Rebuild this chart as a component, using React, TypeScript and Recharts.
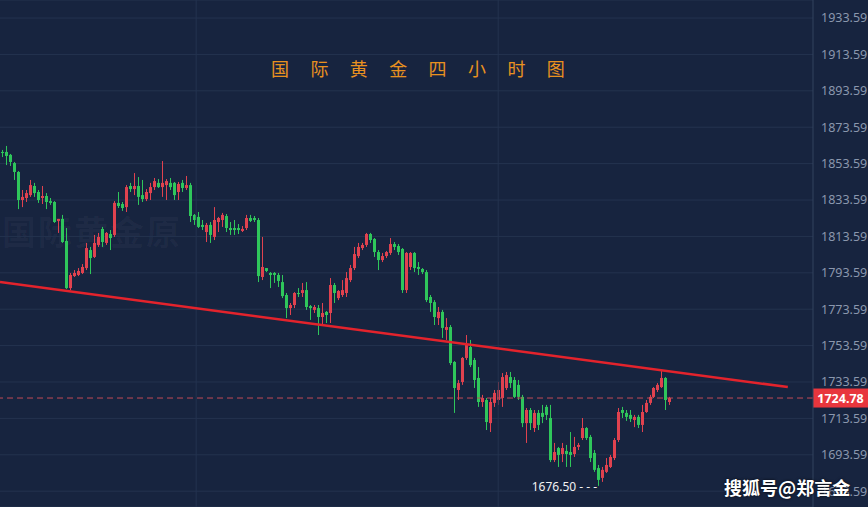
import { ComposedChart, Bar, XAxis, YAxis, CartesianGrid, ReferenceLine, ReferenceDot } from "recharts"

// 国际黄金 4小时K线，红涨绿跌

const opens = [
  1860.0, 1860.0, 1858.4, 1853.9, 1849.0, 1833.6, 1834.7, 1836.3, 1841.3, 1838.0,
  1834.7, 1835.8, 1833.0, 1832.5, 1822.1, 1823.2, 1811.1, 1785.2, 1791.8, 1792.4,
  1793.5, 1796.2, 1806.1, 1802.3, 1808.9, 1817.7, 1810.0, 1814.9, 1814.4, 1832.0,
  1831.4, 1829.7, 1841.3, 1839.6, 1841.3, 1836.3, 1834.1, 1837.4, 1840.7, 1843.0,
  1840.7, 1841.8, 1843.0, 1843.0, 1838.0, 1843.0, 1840.2, 1841.8, 1825.4, 1824.3,
  1819.9, 1816.0, 1819.9, 1813.3, 1821.5, 1822.6, 1824.8, 1818.2, 1818.2, 1818.2,
  1816.6, 1818.2, 1823.7, 1823.7, 1822.6, 1791.3, 1796.2, 1793.5, 1793.5, 1792.4,
  1788.5, 1781.4, 1774.2, 1775.9, 1782.5, 1782.5, 1784.1, 1775.3, 1773.2, 1774.2,
  1769.3, 1772.1, 1771.5, 1786.9, 1779.7, 1781.4, 1782.5, 1789.6, 1796.2, 1802.8,
  1807.2, 1808.9, 1814.9, 1812.2, 1805.0, 1800.6, 1802.8, 1804.5, 1809.4, 1808.3,
  1806.7, 1784.1, 1796.8, 1804.5, 1796.8, 1795.7, 1794.0, 1780.3, 1777.5, 1768.7,
  1772.1, 1762.2, 1763.8, 1744.6, 1729.2, 1733.6, 1746.8, 1752.8, 1745.7, 1735.8,
  1722.6, 1723.7, 1711.0, 1722.1, 1723.7, 1724.8, 1730.3, 1736.3, 1734.7, 1732.0,
  1725.4, 1711.0, 1718.2, 1708.3, 1716.6, 1716.6, 1719.9, 1713.8, 1690.7, 1697.3,
  1694.0, 1695.7, 1695.1, 1694.0, 1697.9, 1702.8, 1708.3, 1703.4, 1694.6, 1686.3,
  1680.9, 1684.2, 1686.9, 1691.8, 1701.7, 1718.2, 1716.6, 1715.5, 1712.7, 1714.4,
  1710.0, 1717.1, 1722.1, 1725.4, 1729.2, 1730.8, 1735.8, 1722.6,
]

const highs = [
  1861.1, 1863.3, 1858.9, 1854.5, 1849.5, 1839.1, 1839.1, 1844.6, 1843.0, 1839.1,
  1841.3, 1837.4, 1834.7, 1833.0, 1823.2, 1825.4, 1818.2, 1793.5, 1795.1, 1796.2,
  1798.4, 1810.0, 1807.8, 1814.4, 1815.5, 1818.8, 1816.0, 1817.1, 1833.0, 1838.0,
  1832.5, 1841.8, 1843.0, 1848.4, 1846.2, 1844.6, 1839.6, 1843.0, 1845.7, 1845.1,
  1855.0, 1845.1, 1845.7, 1843.5, 1843.5, 1844.6, 1846.8, 1843.0, 1825.9, 1827.0,
  1822.6, 1821.0, 1821.5, 1829.7, 1824.3, 1826.5, 1825.9, 1821.5, 1822.6, 1820.4,
  1819.3, 1825.4, 1825.4, 1824.8, 1823.7, 1813.3, 1796.2, 1794.0, 1794.0, 1793.5,
  1792.4, 1782.5, 1777.0, 1783.0, 1785.2, 1788.0, 1788.5, 1775.9, 1775.9, 1775.9,
  1777.0, 1772.6, 1790.7, 1788.0, 1784.1, 1789.6, 1794.0, 1797.9, 1807.8, 1810.0,
  1810.0, 1815.5, 1815.5, 1812.7, 1806.1, 1804.5, 1805.6, 1812.7, 1810.5, 1809.4,
  1807.2, 1805.0, 1805.0, 1805.0, 1799.5, 1796.2, 1795.1, 1781.4, 1778.6, 1774.8,
  1773.2, 1768.7, 1764.9, 1745.1, 1734.7, 1747.3, 1759.4, 1756.7, 1746.8, 1741.8,
  1726.5, 1724.8, 1724.8, 1729.2, 1733.6, 1738.5, 1739.1, 1739.1, 1736.3, 1734.7,
  1726.5, 1719.3, 1719.3, 1718.2, 1718.2, 1721.0, 1721.0, 1721.0, 1700.1, 1697.9,
  1700.1, 1699.0, 1706.1, 1703.4, 1700.1, 1713.8, 1708.8, 1704.5, 1696.2, 1688.0,
  1686.9, 1691.8, 1693.5, 1702.8, 1719.3, 1719.9, 1718.2, 1718.2, 1715.5, 1715.5,
  1721.0, 1723.7, 1726.5, 1730.8, 1733.0, 1739.6, 1736.3, 1725.4,
]

const lows = [
  1857.2, 1852.8, 1852.3, 1844.6, 1828.6, 1829.7, 1832.5, 1835.3, 1835.3, 1832.0,
  1831.4, 1828.6, 1830.9, 1821.0, 1815.5, 1810.0, 1784.7, 1784.1, 1791.3, 1791.8,
  1792.9, 1795.1, 1792.9, 1801.7, 1807.8, 1807.8, 1808.9, 1806.1, 1813.3, 1829.2,
  1827.6, 1827.0, 1838.0, 1836.3, 1830.9, 1832.5, 1833.0, 1833.6, 1839.1, 1840.2,
  1835.3, 1833.6, 1839.1, 1833.6, 1833.6, 1838.0, 1839.1, 1821.5, 1819.9, 1818.2,
  1817.1, 1810.5, 1810.0, 1811.6, 1816.0, 1818.8, 1816.0, 1814.4, 1814.4, 1814.9,
  1816.0, 1817.1, 1821.5, 1821.5, 1788.5, 1789.6, 1794.0, 1785.2, 1788.0, 1785.8,
  1779.7, 1768.7, 1770.4, 1774.2, 1780.3, 1780.3, 1773.2, 1767.7, 1771.5, 1759.4,
  1764.9, 1766.0, 1766.0, 1777.0, 1778.6, 1780.3, 1780.3, 1788.5, 1795.1, 1801.7,
  1806.1, 1807.8, 1810.0, 1802.3, 1795.1, 1799.5, 1801.7, 1803.4, 1806.1, 1803.4,
  1782.5, 1782.5, 1795.1, 1794.0, 1792.4, 1792.9, 1777.5, 1772.1, 1764.9, 1764.9,
  1757.8, 1756.7, 1742.9, 1716.6, 1723.7, 1732.0, 1745.7, 1741.8, 1730.3, 1719.9,
  1719.9, 1707.2, 1706.1, 1719.9, 1721.0, 1719.9, 1729.2, 1730.3, 1724.8, 1723.7,
  1708.8, 1700.1, 1707.2, 1706.1, 1707.2, 1711.0, 1712.7, 1689.6, 1689.6, 1686.9,
  1689.6, 1686.9, 1686.9, 1692.4, 1696.2, 1701.7, 1701.7, 1689.6, 1684.2, 1676.5,
  1678.7, 1683.6, 1686.3, 1690.7, 1700.6, 1713.8, 1712.2, 1711.6, 1708.8, 1708.3,
  1706.1, 1716.6, 1721.0, 1724.8, 1728.1, 1730.3, 1718.2, 1721.0,
]

const closes = [
  1859.4, 1857.8, 1854.5, 1849.0, 1833.6, 1835.3, 1837.4, 1841.8, 1837.4, 1833.6,
  1835.8, 1832.5, 1832.0, 1821.5, 1823.2, 1810.5, 1785.2, 1792.4, 1793.5, 1794.6,
  1796.8, 1807.2, 1801.7, 1810.0, 1813.3, 1810.5, 1815.5, 1812.7, 1832.0, 1830.3,
  1829.2, 1840.7, 1839.6, 1841.3, 1835.3, 1834.1, 1838.0, 1840.7, 1844.0, 1840.7,
  1843.0, 1844.0, 1840.7, 1836.3, 1842.4, 1840.2, 1841.8, 1824.8, 1822.6, 1818.8,
  1818.8, 1819.9, 1814.4, 1822.6, 1823.7, 1825.4, 1818.2, 1817.1, 1817.1, 1817.1,
  1817.7, 1823.7, 1822.1, 1822.6, 1791.8, 1796.8, 1794.6, 1792.4, 1792.4, 1789.1,
  1780.8, 1774.2, 1775.9, 1782.5, 1781.9, 1784.1, 1774.8, 1774.2, 1774.8, 1769.3,
  1771.5, 1770.4, 1786.9, 1782.5, 1783.6, 1784.1, 1790.7, 1796.2, 1803.9, 1807.8,
  1808.9, 1814.9, 1811.6, 1805.0, 1800.6, 1802.8, 1805.0, 1809.4, 1807.8, 1805.0,
  1784.1, 1804.5, 1804.5, 1796.2, 1795.7, 1794.0, 1778.6, 1777.0, 1769.3, 1772.1,
  1763.3, 1763.8, 1744.0, 1730.3, 1733.0, 1746.8, 1753.9, 1742.9, 1734.7, 1722.6,
  1724.8, 1711.6, 1722.6, 1727.6, 1729.2, 1736.3, 1737.4, 1733.0, 1725.4, 1725.4,
  1711.0, 1718.2, 1711.0, 1716.6, 1710.0, 1714.4, 1715.5, 1690.7, 1695.1, 1693.5,
  1697.3, 1694.0, 1693.5, 1697.9, 1699.0, 1708.3, 1702.8, 1691.8, 1685.3, 1679.8,
  1685.3, 1688.0, 1692.4, 1701.7, 1717.1, 1716.6, 1714.4, 1713.3, 1714.4, 1710.0,
  1717.1, 1722.1, 1725.4, 1730.3, 1732.0, 1735.8, 1723.7, 1724.78,
]

const priceTicks = [1673.59, 1693.59, 1713.59, 1733.59, 1753.59, 1773.59, 1793.59, 1813.59, 1833.59, 1853.59, 1873.59, 1893.59, 1913.59, 1933.59]
const lastPrice = 1724.78
const lowMark = { i: 149, price: 1676.5 }
// 下降趋势线两端 (K线序号, 价格)
const trendLine = [{ x: -0.7, y: 1788.5 }, { x: 196.5, y: 1730.8 }]
const sessionLines = [48.4, 124]
const titleChars = ["国", "际", "黄", "金", "四", "小", "时", "图"]

const BG = "#17243f"
const GRID = "#24334f"
const RED = "#e0424f"
const GREEN = "#2fc65b"

const data = opens.map((o, i) => ({
  i,
  o,
  h: highs[i],
  l: lows[i],
  c: closes[i],
  range: [lows[i], highs[i]],
}))

function Candle(props: any) {
  const { x, y, width, height, payload } = props
  const { o, h, l, c } = payload
  const top = Math.min(y, y + height)
  const span = Math.abs(height)
  const k = h === l ? 0 : span / (h - l)
  const yO = top + (h - o) * k
  const yC = top + (h - c) * k
  const color = c >= o ? RED : GREEN
  const cx = Math.round(x + width / 2) + 0.5
  const bodyTop = Math.min(yO, yC)
  const bodyH = Math.max(1, Math.abs(yO - yC))
  return (
    <g>
      <line x1={cx} x2={cx} y1={top} y2={top + span} stroke={color} strokeWidth={1} />
      <rect x={cx - 1.5} y={bodyTop} width={3} height={bodyH} fill={color} />
    </g>
  )
}

function PriceTag(props: any) {
  const vb = props.viewBox || {}
  const x0 = vb.x + vb.width
  return (
    <g>
      <rect x={x0} y={vb.y - 9.5} width={55} height={19} fill="#e8363d" />
      <text x={x0 + 27.5} y={vb.y + 4.5} textAnchor="middle" fill="#fff" fontSize={12.5} fontWeight={700} fontFamily="Noto Sans, sans-serif">
        {lastPrice.toFixed(2)}
      </text>
    </g>
  )
}

function LowTag(props: any) {
  const vb = props.viewBox || {}
  return (
    <text x={vb.x - 1} y={vb.y + 5} textAnchor="end" fill="#f2f2f2" fontSize={12} fontFamily="Noto Sans, sans-serif">
      {lowMark.price.toFixed(2)} - - -
    </text>
  )
}

export default function App() {
  return (
    <div style={{ position: "absolute", left: 0, top: 0, width: 868, height: 507, background: BG, overflow: "hidden" }}>
      <div
        style={{
          position: "absolute", left: 2, top: 206, fontSize: 34, fontWeight: 700, letterSpacing: 2,
          color: "rgba(255,255,255,0.035)", fontFamily: "Noto Sans CJK SC", whiteSpace: "nowrap",
        }}
      >
        国际黄金原
      </div>
      <ComposedChart width={868} height={507} data={data} margin={{ top: 0, right: 0, bottom: 0, left: 0 }}>
        <CartesianGrid stroke={GRID} vertical={false} />
        <XAxis dataKey="i" type="number" domain={[-0.7, 202.8]} hide allowDataOverflow />
        <YAxis
          orientation="right"
          width={55}
          domain={[1664.9, 1943.5]}
          ticks={priceTicks}
          allowDataOverflow
          tickLine={false}
          axisLine={{ stroke: "#33425e" }}
          tick={{ fill: "#8a97ad", fontSize: 12.5, fontFamily: "Noto Sans, sans-serif" }}
        />
        {sessionLines.map((v) => (
          <ReferenceLine key={v} x={v} stroke={GRID} />
        ))}
        <Bar dataKey="range" barSize={3} shape={(p: any) => <Candle {...p} />} isAnimationActive={false} />
        <ReferenceLine y={lastPrice} stroke="#c24b57" strokeDasharray="6 4" label={<PriceTag />} />
        <ReferenceLine segment={trendLine} stroke="#e3232c" strokeWidth={2.5} ifOverflow="visible" />
        <ReferenceDot x={lowMark.i} y={lowMark.price} r={0} label={<LowTag />} />
      </ComposedChart>
      <div
        style={{
          position: "absolute", left: 271, top: 56, fontSize: 18, lineHeight: "24px", letterSpacing: 21.4,
          color: "#e8911f", fontFamily: "Noto Sans CJK SC", whiteSpace: "nowrap",
        }}
      >
        {titleChars.join("")}
      </div>
      <div
        style={{
          position: "absolute", left: 724, top: 475, fontSize: 18, lineHeight: "24px", fontWeight: 700,
          color: "#ffffff", fontFamily: "Noto Sans CJK SC", whiteSpace: "nowrap",
          textShadow: "0 0 3px rgba(0,0,0,0.8)",
        }}
      >
        搜狐号@郑言金
      </div>
    </div>
  )
}
